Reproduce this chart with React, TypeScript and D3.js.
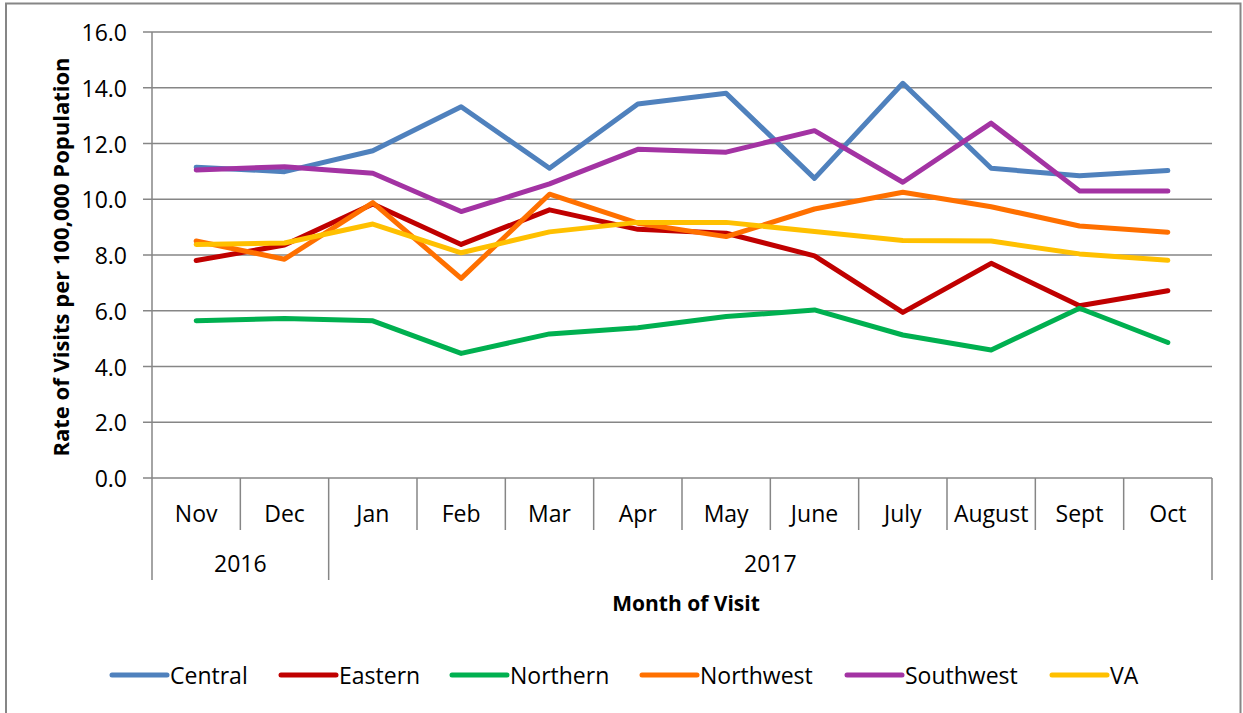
import * as d3 from "d3";

const MONTHS = ["Nov", "Dec", "Jan", "Feb", "Mar", "Apr", "May", "June", "July", "August", "Sept", "Oct"];
const YEARS = [
  { label: "2016", from: 0, to: 2 },
  { label: "2017", from: 2, to: 12 },
];
const Y_TICKS = [0, 2, 4, 6, 8, 10, 12, 14, 16];

const central = [11.15, 10.99, 11.74, 13.32, 11.11, 13.42, 13.8, 10.75, 14.16, 11.11, 10.84, 11.03];
const eastern = [7.8, 8.36, 9.83, 8.38, 9.62, 8.92, 8.78, 7.97, 5.94, 7.7, 6.18, 6.72];
const northern = [5.64, 5.72, 5.64, 4.47, 5.17, 5.39, 5.79, 6.03, 5.13, 4.59, 6.09, 4.86];
const northwest = [8.5, 7.85, 9.88, 7.16, 10.18, 9.14, 8.66, 9.65, 10.25, 9.73, 9.04, 8.82];
const southwest = [11.05, 11.17, 10.93, 9.56, 10.55, 11.79, 11.69, 12.46, 10.61, 12.73, 10.3, 10.3];
const va = [8.38, 8.43, 9.11, 8.08, 8.83, 9.17, 9.17, 8.84, 8.52, 8.5, 8.04, 7.81];

const SERIES = [
  { name: "Central", values: central, color: "#4F81BD" },
  { name: "Eastern", values: eastern, color: "#C00000" },
  { name: "Northern", values: northern, color: "#00B050" },
  { name: "Northwest", values: northwest, color: "#FF7000" },
  { name: "Southwest", values: southwest, color: "#A333A3" },
  { name: "VA", values: va, color: "#FFC000" },
];

// legend entry start positions (line start)
const LEGEND_X = [112, 281, 452, 642, 847, 1052];

const WIDTH = 1243;
const HEIGHT = 713;
const PLOT = { left: 152, right: 1212, top: 32, bottom: 478 };
const FONT = "'Open Sans', 'Noto Sans', sans-serif";
const GRID = "#868686";
const LABEL_SIZE = 23;

export default function App() {
  const xScale = d3.scaleBand<string>().domain(MONTHS).range([PLOT.left, PLOT.right]).padding(0);
  const yScale = d3.scaleLinear().domain([0, 16]).range([PLOT.bottom, PLOT.top]);
  const bw = xScale.bandwidth();

  const line = d3
    .line<number>()
    .x((_, i) => (xScale(MONTHS[i]) ?? 0) + bw / 2)
    .y((d) => yScale(d));

  // band edges for the two-level category axis
  const edges = d3.range(MONTHS.length + 1).map((i) => PLOT.left + i * bw);
  const yearEdges = new Set<number>();
  YEARS.forEach((y) => {
    yearEdges.add(y.from);
    yearEdges.add(y.to);
  });

  return (
    <svg
      width={WIDTH}
      height={HEIGHT}
      style={{ position: "absolute", left: 0, top: 0, background: "#fff" }}
      fontFamily={FONT}
    >
      <rect x={6} y={3.5} width={1234.5} height={720} fill="#fff" stroke={GRID} strokeWidth={2} />

      {/* gridlines + y ticks */}
      {Y_TICKS.map((t) => (
        <g key={t}>
          <line x1={PLOT.left - 9} x2={PLOT.right} y1={yScale(t)} y2={yScale(t)} stroke={GRID} strokeWidth={1.5} />
          <text x={127} y={yScale(t)} textAnchor="end" dominantBaseline="central" fontSize={LABEL_SIZE} fill="#000">
            {t.toFixed(1)}
          </text>
        </g>
      ))}
      <line x1={PLOT.left} x2={PLOT.left} y1={PLOT.top} y2={PLOT.bottom} stroke={GRID} strokeWidth={1.5} />

      {/* category separators */}
      {edges.map((x, i) => (
        <line
          key={i}
          x1={x}
          x2={x}
          y1={PLOT.bottom}
          y2={yearEdges.has(i) ? 580 : 530}
          stroke={GRID}
          strokeWidth={1.5}
        />
      ))}

      {MONTHS.map((m) => (
        <text
          key={m}
          x={(xScale(m) ?? 0) + bw / 2}
          y={513}
          textAnchor="middle"
          dominantBaseline="central"
          fontSize={LABEL_SIZE}
        >
          {m}
        </text>
      ))}
      {YEARS.map((y) => (
        <text
          key={y.label}
          x={(edges[y.from] + edges[y.to]) / 2}
          y={563}
          textAnchor="middle"
          dominantBaseline="central"
          fontSize={LABEL_SIZE}
        >
          {y.label}
        </text>
      ))}

      {/* series */}
      {SERIES.map((s) => (
        <path
          key={s.name}
          d={line(s.values) ?? ""}
          fill="none"
          stroke={s.color}
          strokeWidth={5}
          strokeLinejoin="round"
          strokeLinecap="round"
        />
      ))}

      {/* axis titles */}
      <text
        x={(PLOT.left + PLOT.right) / 2 + 4}
        y={603}
        textAnchor="middle"
        dominantBaseline="central"
        fontSize={21}
        fontWeight="bold"
      >
        Month of Visit
      </text>
      <text
        transform={`translate(60,${(PLOT.top + PLOT.bottom) / 2 + 2}) rotate(-90)`}
        textAnchor="middle"
        dominantBaseline="central"
        fontSize={22}
        fontWeight="bold"
      >
        Rate of Visits per 100,000 Population
      </text>

      {/* legend */}
      {SERIES.map((s, i) => (
        <g key={s.name} transform={`translate(${LEGEND_X[i]},675)`}>
          <line x1={0} x2={55} y1={0} y2={0} stroke={s.color} strokeWidth={5} strokeLinecap="round" />
          <text x={58} y={0} dominantBaseline="central" fontSize={LABEL_SIZE}>
            {s.name}
          </text>
        </g>
      ))}
    </svg>
  );
}
